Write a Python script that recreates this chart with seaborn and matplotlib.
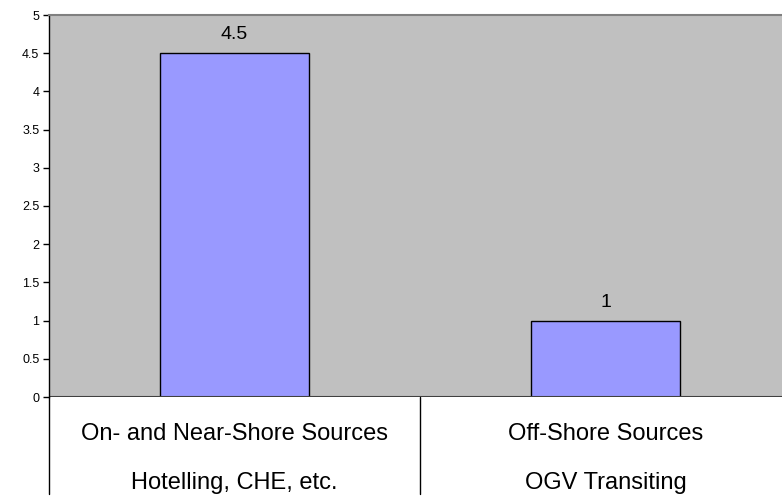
import pandas as pd
import matplotlib.pyplot as plt
import matplotlib.transforms as mtransforms
import seaborn as sns

# === Chart data ===
source_names = ["On- and Near-Shore Sources", "Off-Shore Sources"]
source_details = ["Hotelling, CHE, etc.", "OGV Transiting"]
values = [4.5, 1.0]
value_labels = ["4.5", "1"]

df = pd.DataFrame({"source": source_names, "value": values})

sns.set_style("white")
plt.rcParams["font.family"] = ["Liberation Sans", "DejaVu Sans"]
plt.rcParams["text.color"] = "black"
plt.rcParams["xtick.color"] = "black"
plt.rcParams["ytick.color"] = "black"

fig = plt.figure(figsize=(7.82, 4.97), dpi=100)
ax = fig.add_axes([49 / 782, 100 / 497, 742 / 782, 382 / 497])
ax.set_facecolor("#C0C0C0")

sns.barplot(data=df, x="source", y="value", color="#9999FF",
            edgecolor="black", linewidth=1, width=0.4, saturation=1, ax=ax)

ax.set_xlim(-0.5, 1.5)
ax.set_ylim(0, 5)
ax.set_yticks([i * 0.5 for i in range(11)])
ax.set_yticklabels([f"{i * 0.5:g}" for i in range(11)], fontsize=9)
ax.tick_params(axis="y", direction="out", length=4, width=1, left=True, pad=3)
ax.set_xticks(range(len(source_names)))
ax.set_xticklabels([f"{a}\n{b}" for a, b in zip(source_names, source_details)],
                   fontsize=17, linespacing=2.55)
ax.tick_params(axis="x", length=0, pad=19)
ax.set_xlabel("")
ax.set_ylabel("")

for s in ["right", "bottom"]:
    ax.spines[s].set_visible(False)
ax.spines["top"].set_color("#808080")
ax.spines["top"].set_linewidth(1.5)
ax.spines["left"].set_color("black")
ax.spines["left"].set_linewidth(1)
ax.axhline(0, color="#404040", linewidth=1.5)

# value labels above bars
for i, (v, lab) in enumerate(zip(values, value_labels)):
    ax.annotate(lab, (i, v), xytext=(0, 7), textcoords="offset points",
                ha="center", va="bottom", fontsize=14)

# category divider lines below the axis
trans = mtransforms.blended_transform_factory(ax.transData, ax.transAxes)
drop = -(494 - 397) / 382
for x in [-0.5, 0.5]:
    ax.plot([x, x], [0, drop], color="black", linewidth=1,
            transform=trans, clip_on=False)

fig.savefig("out.png", dpi=100)
